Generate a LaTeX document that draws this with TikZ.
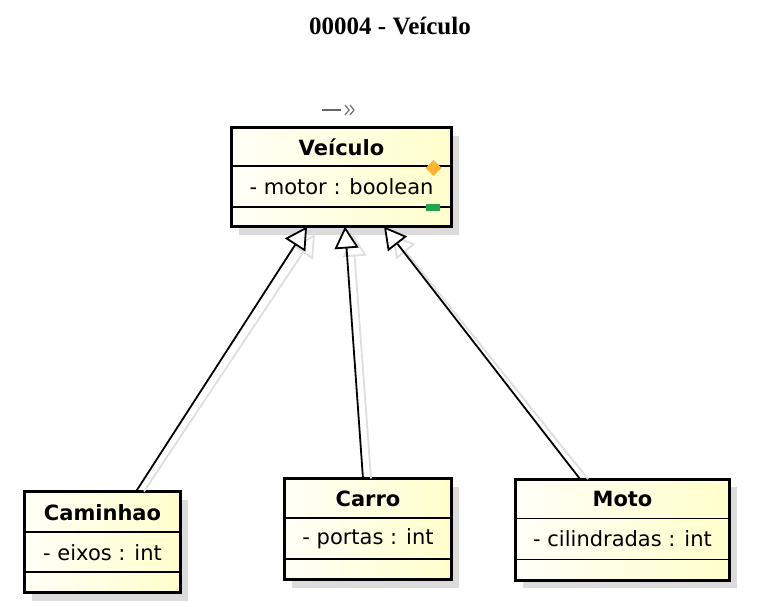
\documentclass[tikz,border=0pt]{standalone}
\usepackage{fontspec}
\setmainfont{DejaVu Sans}
\newfontfamily\titlefont{Liberation Serif}
\usetikzlibrary{arrows.meta,shadows}

\definecolor{markorange}{RGB}{255,180,50}
\definecolor{markgreen}{RGB}{35,165,80}

\tikzset{
  classbox/.style={draw=black, line width=3pt, inner sep=0pt, outer sep=0pt,
    left color=yellow!3, right color=yellow!20,
    drop shadow={shadow xshift=7pt, shadow yshift=-8pt, fill=black!14, opacity=1}},
  sepline/.style={draw=black, line width=1.6pt},
  cname/.style={font=\fontsize{21}{25}\selectfont\bfseries},
  cattr/.style={font=\fontsize{21}{25}\selectfont},
  gen/.style={draw=black, line width=1.8pt, -{Triangle[length=22pt,width=24pt,fill=white]}},
  genshadow/.style={gen, draw=black!13}
}

\begin{document}
\begin{tikzpicture}[x=1pt,y=-1pt]
\useasboundingbox (0,0) rectangle (759,606);

\node[font=\titlefont\fontsize{25}{30}\selectfont\bfseries] (title) at (390,26) {00004 - Veículo};

% classes
\node[classbox, minimum width=220pt, minimum height=99pt] (veiculo) at (341.5,177) {};
\node[classbox, minimum width=156pt, minimum height=101pt] (caminhao) at (102.5,542) {};
\node[classbox, minimum width=167pt, minimum height=101pt] (carro) at (368,529) {};
\node[classbox, minimum width=214pt, minimum height=101pt] (moto) at (622.5,529.5) {};

\draw[sepline] ([yshift=-38.5pt]veiculo.north west) -- ([yshift=-38.5pt]veiculo.north east);
\draw[sepline] ([yshift=-79.5pt]veiculo.north west) -- ([yshift=-79.5pt]veiculo.north east);
\draw[sepline] ([yshift=-40.5pt]caminhao.north west) -- ([yshift=-40.5pt]caminhao.north east);
\draw[sepline] ([yshift=-80.5pt]caminhao.north west) -- ([yshift=-80.5pt]caminhao.north east);
\draw[sepline] ([yshift=-39.5pt]carro.north west) -- ([yshift=-39.5pt]carro.north east);
\draw[sepline] ([yshift=-80.5pt]carro.north west) -- ([yshift=-80.5pt]carro.north east);
\draw[sepline] ([yshift=-39.5pt]moto.north west) -- ([yshift=-39.5pt]moto.north east);
\draw[sepline] ([yshift=-80.5pt]moto.north west) -- ([yshift=-80.5pt]moto.north east);

\node[cname] (veiculo name) at ([yshift=-19.5pt]veiculo.north) {Veículo};
\node[cattr] (veiculo attr) at ([yshift=-59.5pt]veiculo.north) {- motor : boolean};
\node[cname] (caminhao name) at ([yshift=-21pt]caminhao.north) {Caminhao};
\node[cattr] (caminhao attr) at ([yshift=-61pt]caminhao.north) {- eixos : int};
\node[cname] (carro name) at ([yshift=-20.5pt]carro.north) {Carro};
\node[cattr] (carro attr) at ([yshift=-60.5pt]carro.north) {- portas : int};
\node[cname] (moto name) at ([yshift=-20pt]moto.north) {Moto};
\node[cattr] (moto attr) at ([yshift=-60pt]moto.north) {- cilindradas : int};

% markers on Veiculo
\fill[markorange] (433.5,160) -- (441.5,168) -- (433.5,176) -- (425.5,168) -- cycle;
\fill[markgreen] (426,204) rectangle (440,211);
\draw[black!60, line width=2.5pt] (322,110) -- (341,110);
\draw[black!55, line width=1.2pt] (345,105) -- (349,110) -- (345,115);
\draw[black!55, line width=1.2pt] (350,105) -- (354,110) -- (350,115);

% generalizations
\draw[genshadow] ([xshift=41.5pt]caminhao.north) -- ([shift={(-26.5pt,-8pt)}]veiculo.south);
\draw[genshadow] ([xshift=3pt]carro.north) -- ([shift={(11.5pt,-8pt)}]veiculo.south);
\draw[genshadow] ([xshift=-34.5pt]moto.north) -- ([shift={(50.5pt,-8pt)}]veiculo.south);

\draw[gen] ([xshift=33.5pt]caminhao.north) -- ([xshift=-34.5pt]veiculo.south);
\draw[gen] ([xshift=-5pt]carro.north) -- ([xshift=3.5pt]veiculo.south);
\draw[gen] ([xshift=-42.5pt]moto.north) -- ([xshift=42.5pt]veiculo.south);

\end{tikzpicture}
\end{document}
